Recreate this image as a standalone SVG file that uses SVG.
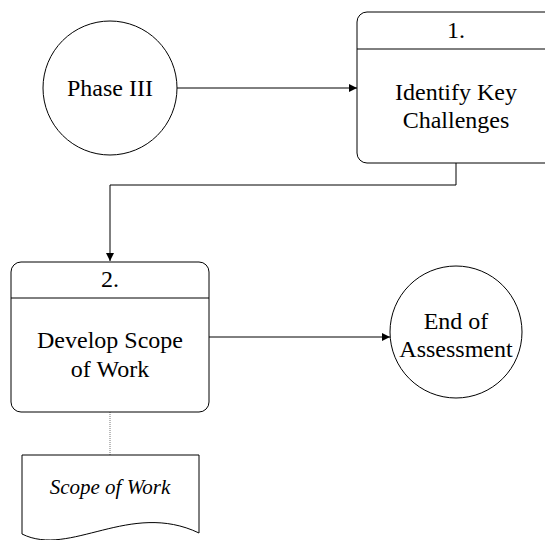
<svg xmlns="http://www.w3.org/2000/svg" width="545" height="540" viewBox="0 0 545 540">
  <defs>
    <marker id="arrow" viewBox="0 0 10 10" refX="10" refY="5" markerWidth="8" markerHeight="8" markerUnits="userSpaceOnUse" orient="auto">
      <path d="M0,0 L10,5 L0,10 Z" fill="#000"/>
    </marker>
    <style>
      .shape { fill: #fff; stroke: #000; stroke-width: 1; }
      .edge { fill: none; stroke: #000; stroke-width: 1; }
      .assoc { fill: none; stroke: #777; stroke-width: 1; stroke-dasharray: 1 1; }
      .label { font-family: "Liberation Serif", "Times New Roman", serif; font-size: 24px; fill: #000; text-anchor: middle; }
      .doc { font-family: "Liberation Serif", "Times New Roman", serif; font-size: 21px; font-style: italic; fill: #000; text-anchor: middle; }
    </style>
  </defs>

  <g id="connectors">
    <path class="edge" d="M177,88 H357" marker-end="url(#arrow)"/>
    <path class="edge" d="M456,163 V185 H110 V261" marker-end="url(#arrow)"/>
    <path class="edge" d="M209,337 H390" marker-end="url(#arrow)"/>
    <path class="assoc" d="M110,412 V455"/>
  </g>

  <g id="phase3">
    <circle class="shape" cx="110" cy="88" r="67"/>
    <text class="label" x="110" y="96">Phase III</text>
  </g>

  <g id="process1">
    <rect class="shape" x="357" y="12" width="198" height="151" rx="10" ry="10"/>
    <line class="edge" x1="357" y1="49" x2="555" y2="49"/>
    <text class="label" x="456" y="38">1.</text>
    <text class="label" x="456" y="100">Identify Key</text>
    <text class="label" x="456" y="128">Challenges</text>
  </g>

  <g id="process2">
    <rect class="shape" x="11" y="262" width="198" height="150" rx="10" ry="10"/>
    <line class="edge" x1="11" y1="298" x2="209" y2="298"/>
    <text class="label" x="110" y="287">2.</text>
    <text class="label" x="110" y="348">Develop Scope</text>
    <text class="label" x="110" y="377">of Work</text>
  </g>

  <g id="end">
    <circle class="shape" cx="456" cy="332" r="66"/>
    <text class="label" x="456" y="329">End of</text>
    <text class="label" x="456" y="357">Assessment</text>
  </g>

  <g id="document">
    <path class="shape" d="M22,455 H199 V533 C130,500 70,558 22,534 Z"/>
    <text class="doc" x="110" y="494">Scope of Work</text>
  </g>
</svg>
